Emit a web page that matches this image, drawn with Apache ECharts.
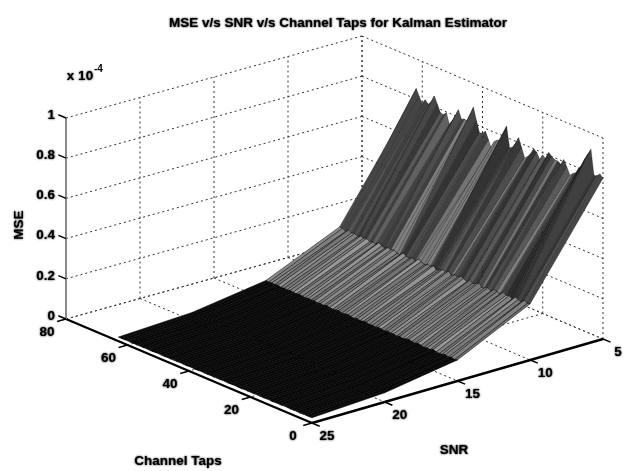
<!DOCTYPE html>
<html>
<head>
<meta charset="utf-8">
<style>
  html, body { margin: 0; padding: 0; background: #fff; }
  #chart { width: 631px; height: 471px; filter: blur(0.7px); }
</style>
</head>
<body>
<div id="chart"></div>
<script src="https://cdn.jsdelivr.net/npm/echarts@6/dist/echarts.min.js"></script>
<script>
// axis ticks
var snrTicks = [5, 10, 15, 20, 25]
var tapTicks = [0, 20, 40, 60, 80]
var mseTicks = [0, 0.2, 0.4, 0.6, 0.8, 1]
var mseLabels = ['0', '0.2', '0.4', '0.6', '0.8', '1']

// grid of the surface
var snrValues = [5, 10, 15, 20, 25]
var tapValues = [0, 1, 2, 3, 4, 5, 6, 7, 8, 9, 10, 11, 12, 13, 14, 15, 16, 17, 18, 19, 20, 21, 22, 23, 24, 25, 26, 27, 28, 29, 30, 31, 32, 33, 34, 35, 36, 37, 38, 39, 40, 41, 42, 43, 44, 45, 46, 47, 48, 49, 50, 51, 52, 53, 54, 55, 56, 57, 58, 59, 60, 61, 62, 63]

// MSE (x 10^-4) per channel tap, one list per SNR
var mseSnr5 = [0.80, 0.815, 0.80, 0.795, 0.918, 0.89, 0.86, 0.82, 0.80, 0.77, 0.76, 0.746, 0.78, 0.81, 0.78, 0.79, 0.79, 0.80, 0.814, 0.775, 0.789, 0.76, 0.79, 0.80, 0.77, 0.75, 0.736, 0.78, 0.824, 0.79, 0.765, 0.754, 0.856, 0.80, 0.775, 0.768, 0.756, 0.71, 0.75, 0.786, 0.77, 0.766, 0.82, 0.88, 0.83, 0.80, 0.80, 0.796, 0.836, 0.80, 0.77, 0.746, 0.796, 0.78, 0.784, 0.82, 0.854, 0.82, 0.80, 0.816, 0.79, 0.82, 0.853, 0.80]
var mseSnr10 = [0.28, 0.275, 0.285, 0.27, 0.275, 0.28, 0.265, 0.275, 0.27, 0.28, 0.265, 0.27, 0.275, 0.26, 0.27, 0.265, 0.26, 0.275, 0.265, 0.26, 0.27, 0.255, 0.265, 0.27, 0.26, 0.265, 0.255, 0.27, 0.26, 0.265, 0.255, 0.25, 0.265, 0.255, 0.26, 0.25, 0.26, 0.265, 0.25, 0.26, 0.25, 0.255, 0.265, 0.25, 0.25, 0.26, 0.255, 0.26, 0.25, 0.255, 0.265, 0.25, 0.255, 0.25, 0.26, 0.255, 0.26, 0.25, 0.26, 0.255, 0.265, 0.25, 0.26, 0.26]
var mseSnr15 = [0.105, 0.10, 0.105, 0.10, 0.105, 0.10, 0.098, 0.10, 0.105, 0.098, 0.10, 0.096, 0.10, 0.104, 0.098, 0.10, 0.104, 0.10, 0.096, 0.10, 0.095, 0.10, 0.097, 0.10, 0.095, 0.098, 0.10, 0.095, 0.098, 0.095, 0.10, 0.098, 0.095, 0.098, 0.094, 0.096, 0.10, 0.096, 0.094, 0.10, 0.096, 0.094, 0.096, 0.10, 0.094, 0.097, 0.093, 0.097, 0.095, 0.097, 0.093, 0.095, 0.098, 0.094, 0.095, 0.098, 0.094, 0.096, 0.094, 0.098, 0.095, 0.097, 0.095, 0.096]
var mseSnr20 = [0.046, 0.044, 0.046, 0.043, 0.046, 0.044, 0.046, 0.042, 0.044, 0.046, 0.043, 0.044, 0.042, 0.044, 0.043, 0.042, 0.044, 0.042, 0.043, 0.042, 0.044, 0.043, 0.042, 0.044, 0.042, 0.043, 0.042, 0.043, 0.041, 0.043, 0.042, 0.041, 0.042, 0.043, 0.041, 0.042, 0.041, 0.043, 0.042, 0.041, 0.043, 0.042, 0.041, 0.042, 0.04, 0.042, 0.041, 0.04, 0.042, 0.041, 0.04, 0.041, 0.04, 0.041, 0.04, 0.041, 0.042, 0.04, 0.041, 0.04, 0.041, 0.04, 0.041, 0.04]
var mseSnr25 = [0.026, 0.025, 0.026, 0.025, 0.024, 0.026, 0.025, 0.024, 0.025, 0.026, 0.024, 0.025, 0.024, 0.023, 0.025, 0.024, 0.023, 0.024, 0.025, 0.023, 0.024, 0.023, 0.024, 0.022, 0.023, 0.024, 0.023, 0.022, 0.023, 0.024, 0.022, 0.023, 0.022, 0.023, 0.022, 0.022, 0.023, 0.022, 0.021, 0.023, 0.022, 0.021, 0.022, 0.023, 0.021, 0.022, 0.021, 0.022, 0.02, 0.021, 0.022, 0.021, 0.02, 0.021, 0.022, 0.02, 0.021, 0.02, 0.021, 0.02, 0.021, 0.02, 0.02, 0.02]

// colour data of the facets (0 black .. 1 white), one list per SNR band
var cdataSnr5 = [0.28, 0.30, 0.20, 0.25, 0.20, 0.18, 0.16, 0.17, 0.25, 0.30, 0.50, 0.35, 0.25, 0.30, 0.22, 0.45, 0.30, 0.20, 0.25, 0.35, 0.24, 0.30, 0.20, 0.25, 0.30, 0.50, 0.30, 0.22, 0.35, 0.32, 0.24, 0.20, 0.30, 0.50, 0.48, 0.48, 0.47, 0.45, 0.25, 0.30, 0.30, 0.20, 0.27, 0.48, 0.50, 0.50, 0.25, 0.30, 0.24, 0.27, 0.30, 0.38, 0.25, 0.35, 0.22, 0.28, 0.22, 0.30, 0.25, 0.33, 0.27, 0.27, 0.30, 0.27]
var cdataSnr10 = [0.44, 0.50, 0.52, 0.48, 0.56, 0.46, 0.50, 0.60, 0.47, 0.53, 0.50, 0.44, 0.58, 0.50, 0.46, 0.54, 0.48, 0.60, 0.50, 0.44, 0.52, 0.58, 0.47, 0.50, 0.45, 0.60, 0.50, 0.46, 0.54, 0.50, 0.44, 0.58, 0.50, 0.48, 0.54, 0.46, 0.60, 0.50, 0.45, 0.52, 0.48, 0.58, 0.50, 0.46, 0.54, 0.50, 0.56, 0.44, 0.50, 0.58, 0.48, 0.52, 0.46, 0.60, 0.50, 0.54, 0.47, 0.50, 0.56, 0.46, 0.52, 0.50, 0.54, 0.50]
var cdataFlat = [0.04, 0.03, 0.05]

var mseBySnr = [mseSnr5, mseSnr10, mseSnr15, mseSnr20, mseSnr25]
var cdataBySnr = [cdataSnr5, cdataSnr10]

// floor corners of the 3d box in page pixels
var cornerFront = [312, 423] // SNR 25, taps 0
var cornerRight = [603, 339] // SNR 5, taps 0
var cornerLeft = [66, 319]   // SNR 25, taps 80
var cornerBack = [362, 237]  // SNR 5, taps 80
var boxHeight = 201

function project(snr, tap, mse) {
  var s = (25 - snr) / 20
  var u = 1 - s
  var t = tap / 80
  var x = (1 - t) * (u * cornerFront[0] + s * cornerRight[0]) + t * (u * cornerLeft[0] + s * cornerBack[0])
  var y = (1 - t) * (u * cornerFront[1] + s * cornerRight[1]) + t * (u * cornerLeft[1] + s * cornerBack[1])
  return [x, y - mse * boxHeight]
}

var GRID_STYLE = { stroke: '#333', lineWidth: 1, lineDash: [2, 3] }

function gridLines() {
  var list = []
  mseTicks.forEach(function(m) {
    list.push([25, 80, m, 5, 80, m])
    list.push([5, 80, m, 5, 0, m])
  })
  snrTicks.forEach(function(s) {
    list.push([s, 80, 0, s, 80, 1])
    if (s !== 25) list.push([s, 80, 0, s, 0, 0])
  })
  tapTicks.forEach(function(t) {
    list.push([5, t, 0, 5, t, 1])
    if (t !== 0) list.push([5, t, 0, 25, t, 0])
  })
  return list
}

function axisLines() {
  var list = [
    [25, 80, 0, 25, 0, 0, '#000', 2.4],
    [25, 0, 0, 5, 0, 0, '#000', 2.4],
    [25, 80, 0, 25, 80, 1, '#888', 2]
  ]
  mseTicks.forEach(function(m) { list.push([25, 80, m, 25, 82.5, m, '#000', 1.4]) })
  tapTicks.forEach(function(t) { list.push([25, t, 0, 25.6, t, 0, '#000', 1.4]) })
  snrTicks.forEach(function(s) { list.push([s, 0, 0, s, -2.5, 0, '#000', 1.4]) })
  return list
}

// back to front so nearer facets cover the far ones
function surfaceCells() {
  var cells = []
  for (var i = 0; i < snrValues.length - 1; i++) {
    for (var j = tapValues.length - 2; j >= 0; j--) {
      cells.push([i, j])
    }
  }
  return cells
}

var chart = echarts.init(document.getElementById('chart'))

function renderLine(params, api) {
  var p1 = api.coord(project(api.value(0), api.value(1), api.value(2)))
  var p2 = api.coord(project(api.value(3), api.value(4), api.value(5)))
  return {
    type: 'line',
    shape: { x1: p1[0], y1: p1[1], x2: p2[0], y2: p2[1] },
    style: GRID_STYLE,
    silent: true
  }
}

function renderAxisLine(params, api) {
  var p1 = api.coord(project(api.value(0), api.value(1), api.value(2)))
  var p2 = api.coord(project(api.value(3), api.value(4), api.value(5)))
  var item = axisData[params.dataIndex]
  return {
    type: 'line',
    shape: { x1: p1[0], y1: p1[1], x2: p2[0], y2: p2[1] },
    style: { stroke: item[6], lineWidth: item[7] },
    silent: true
  }
}

function renderCell(params, api) {
  var i = api.value(0)
  var j = api.value(1)
  var pts = [[i, j], [i + 1, j], [i + 1, j + 1], [i, j + 1]].map(function(q) {
    return api.coord(project(snrValues[q[0]], tapValues[q[1]], mseBySnr[q[0]][q[1]]))
  })
  var level = i < cdataBySnr.length ? cdataBySnr[i][j] : cdataFlat[j % cdataFlat.length]
  var g = Math.round(level * 255)
  var col = 'rgb(' + g + ',' + g + ',' + g + ')'
  return {
    type: 'polygon',
    shape: { points: pts },
    style: { fill: col, stroke: '#000', lineWidth: i === 0 ? 0.3 : 0.5 },
    silent: true
  }
}

var LABEL_FONT = 'bold 13.5px "Liberation Sans", Arial, sans-serif'

function textEl(x, y, text, align) {
  return {
    type: 'text',
    x: x,
    y: y,
    style: {
      text: text,
      font: LABEL_FONT,
      fill: '#000',
      align: align || 'center',
      verticalAlign: 'middle',
      textShadowColor: '#000',
      textShadowBlur: 2
    },
    silent: true
  }
}

function renderTickLabel(params, api) {
  var kind = labelData[params.dataIndex][0]
  var v = labelData[params.dataIndex][1]
  var p
  if (kind === 'snr') {
    p = api.coord(project(v, 0, 0))
    return textEl(p[0] + 15, p[1] + 13, String(v))
  }
  if (kind === 'tap') {
    p = api.coord(project(25, v, 0))
    return textEl(p[0] - 19, p[1] + 13, String(v))
  }
  p = api.coord(project(25, 80, v))
  return textEl(p[0] - 11, p[1] - 3, mseLabels[mseTicks.indexOf(v)], 'right')
}

var axisData = axisLines()
var labelData = []
snrTicks.forEach(function(v) { labelData.push(['snr', v]) })
tapTicks.forEach(function(v) { labelData.push(['tap', v]) })
mseTicks.forEach(function(v) { labelData.push(['mse', v]) })

var customBase = { type: 'custom', coordinateSystem: 'cartesian2d', animation: false, clip: false, encode: { x: [], y: [] } }

function pageText(x, y, text, extra) {
  return Object.assign({
    type: 'text',
    x: x,
    y: y,
    style: { text: text, font: LABEL_FONT, fill: '#000', align: 'center', verticalAlign: 'middle', textShadowColor: '#000', textShadowBlur: 2 },
    silent: true
  }, extra || {})
}

chart.setOption({
  animation: false,
  backgroundColor: '#fff',
  title: {
    text: 'MSE v/s SNR v/s Channel Taps for Kalman Estimator',
    left: 333,
    top: 11,
    textAlign: 'center',
    textStyle: {
      fontFamily: '"Liberation Sans", Arial, sans-serif',
      fontSize: 13.5,
      fontWeight: 'bold',
      color: '#000',
      textShadowColor: '#000',
      textShadowBlur: 2
    }
  },
  grid: { left: 0, right: 0, top: 0, bottom: 0 },
  // hidden page scale, all 3d points end up here through project()
  xAxis: { type: 'value', min: 0, max: 631, show: false },
  yAxis: { type: 'value', min: 0, max: 471, inverse: true, show: false },
  graphic: [
    pageText(80, 76, 'x 10'),
    { type: 'text', x: 94, y: 64, style: { text: '-4', font: 'bold 10px "Liberation Sans", Arial, sans-serif', fill: '#000' }, silent: true },
    pageText(19, 225, 'MSE', { rotation: Math.PI / 2 }),
    pageText(178, 461, 'Channel Taps'),
    pageText(454, 450, 'SNR')
  ],
  series: [
    Object.assign({}, customBase, { z: 1, data: gridLines(), renderItem: renderLine }),
    Object.assign({}, customBase, { z: 2, data: axisData.map(function(a) { return a.slice(0, 6) }), renderItem: renderAxisLine }),
    Object.assign({}, customBase, { z: 3, data: surfaceCells(), renderItem: renderCell }),
    Object.assign({}, customBase, { z: 4, data: labelData.map(function(l, i) { return [i] }), renderItem: renderTickLabel })
  ]
})
</script>
</body>
</html>
